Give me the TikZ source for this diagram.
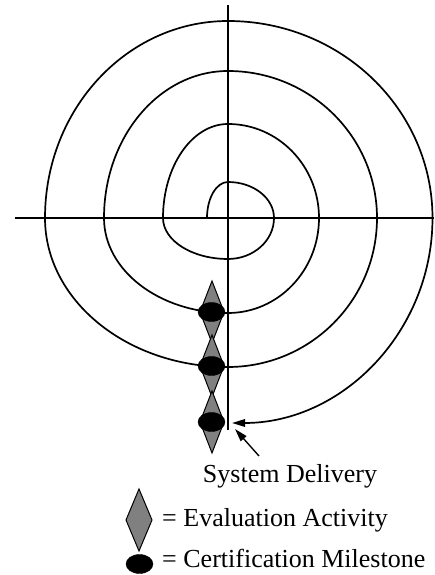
\documentclass[tikz,border=0pt]{standalone}
\usepackage{fontspec}
\setmainfont{Liberation Serif}
\usetikzlibrary{arrows.meta,shapes.geometric}
\begin{document}
\begin{tikzpicture}[x=1pt,y=1pt,
  axis/.style={line width=1.7pt},
  spiralline/.style={line width=1.7pt},
  evalbox/.style={fill=black!50, draw=black, line width=1pt, line join=miter},
  milestone/.style={ellipse, fill=black, draw=black, minimum width=27pt, minimum height=19pt, inner sep=0pt},
  lbl/.style={inner sep=0pt, font=\fontsize{26}{29}\selectfont},
  tip/.style={-{Triangle[length=13pt,width=7.5pt]}}
]
\useasboundingbox (0,0) rectangle (434,575);
% axes
\coordinate (hl) at (15,357);
\coordinate (hr) at (434,357);
\coordinate (vt) at (228,570);
\coordinate (vb) at (228,145);
\draw[axis] (hl) -- (hr);
\draw[axis] (vt) -- (vb);
% spiral
\coordinate (sstart) at (207,357);
\draw[spiralline, tip] (sstart)
  arc[start angle=180, end angle=90, x radius=21, y radius=36]
  arc[start angle=90, end angle=0, x radius=46, y radius=36]
  arc[start angle=0, end angle=-90, x radius=46, y radius=41]
  arc[start angle=-90, end angle=-180, x radius=65, y radius=41]
  arc[start angle=180, end angle=90, x radius=65, y radius=94]
  arc[start angle=90, end angle=0, x radius=91, y radius=94]
  arc[start angle=0, end angle=-90, x radius=91, y radius=95]
  arc[start angle=-90, end angle=-180, x radius=124, y radius=95]
  arc[start angle=180, end angle=90, x radius=124, y radius=147]
  arc[start angle=90, end angle=0, x radius=149, y radius=147]
  arc[start angle=0, end angle=-90, x radius=149, y radius=149]
  arc[start angle=-90, end angle=-180, x radius=183, y radius=149]
  arc[start angle=180, end angle=90, x radius=183, y radius=197]
  arc[start angle=90, end angle=0, x radius=204.5, y radius=197]
  arc[start angle=0, end angle=-90, x radius=200.5, y radius=205];
% evaluation diamonds
\foreach \yy in {263,209,153}{
  \path[evalbox] (212,\yy+31) -- (224,\yy) -- (212,\yy-31) -- (200,\yy) -- cycle;
}
% milestones
\node[milestone] (m1) at (211.5,263) {};
\node[milestone] (m2) at (211.5,209) {};
\node[milestone] (m3) at (211.5,153) {};
% system delivery
\node[lbl, anchor=base] (sd) at (290,92) {System Delivery};
\coordinate (deltail) at (259,119);
\coordinate (deltip) at (235,146);
\draw[line width=1.4pt, tip] (deltail) -- (deltip);
% legend
\path[evalbox] (139,86) -- (152,55) -- (139,24) -- (126,55) -- cycle;
\node[milestone] (lm) at (139.5,11) {};
\node[lbl, anchor=base west] (le) at (162,48) {= Evaluation Activity};
\node[lbl, anchor=base west] (lc) at (162,7) {= Certification Milestone};
\end{tikzpicture}
\end{document}
